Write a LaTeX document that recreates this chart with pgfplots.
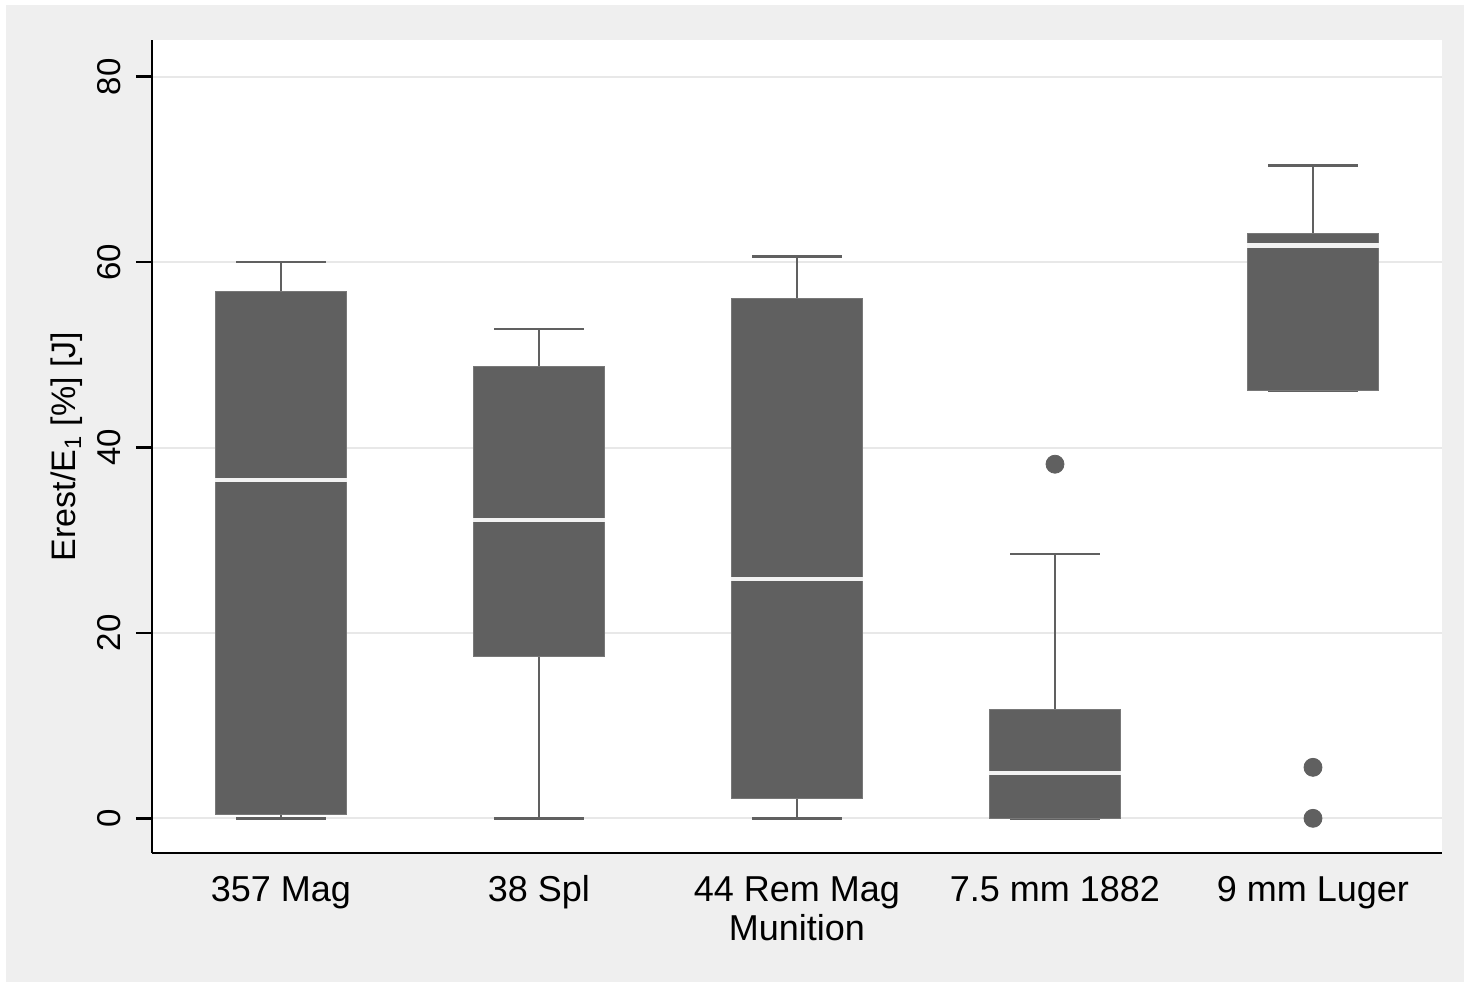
\documentclass[border=0pt]{standalone}
\usepackage{fontspec}
\setmainfont{Liberation Sans}
\usepackage{pgfplots}
\pgfplotsset{compat=1.18}
\usepgfplotslibrary{statistics}

\definecolor{boxgray}{HTML}{606060}
\definecolor{boxedge}{HTML}{787878}
\definecolor{bggray}{HTML}{EFEFEF}
\definecolor{gridgray}{HTML}{E8E8E8}
\definecolor{medwhite}{HTML}{F2F2F2}

\begin{document}
\begin{tikzpicture}
% page 1464x982 px at 0.5pt per px
\path[use as bounding box] (0,0) rectangle (732pt,491pt);
\fill[bggray] (3pt,0) rectangle (732pt,488.5pt);
\fill[white] (76pt,64.5pt) rectangle (721pt,471pt);
\begin{axis}[
  at={(76pt,64.5pt)}, anchor=south west,
  scale only axis, width=645pt, height=406.5pt,
  xmin=0.5, xmax=5.5, ymin=-3.74, ymax=83.96,
  axis x line*=bottom, axis y line*=left,
  axis line style={black, line width=1.2pt},
  xtick={1,2,3,4,5},
  xticklabels={357 Mag, 38 Spl, 44 Rem Mag, 7.5 mm 1882, 9 mm Luger},
  x tick style={draw=none},
  ytick={0,20,40,60,80},
  ymajorgrids, grid style={gridgray, line width=1pt},
  tick align=outside, major tick length=8pt,
  y tick style={black, line width=1.2pt},
  /pgf/number format/assume math mode=true,
  yticklabel style={xshift=-7.5pt, rotate=90, anchor=base, inner sep=0pt,
    font=\fontsize{16.5pt}{16.5pt}\selectfont},
  xticklabel style={anchor=base, inner sep=0pt, yshift=-16pt,
    font=\fontsize{18pt}{18pt}\selectfont},
  xlabel={Munition},
  every axis x label/.style={at={(axis description cs:0.5,-0.1082)},
    anchor=base, inner sep=0pt, font=\fontsize{18pt}{18pt}\selectfont},
  ylabel={Erest/E\textsubscript{1} [\%] [J]},
  every axis y label/.style={at={(axis description cs:-0.0590,0.5)},
    rotate=90, anchor=base, inner sep=0pt, font=\fontsize{17pt}{17pt}\selectfont},
  boxplot/draw direction=y,
  boxplot/box extend=0.51,
  boxplot/whisker extend=0.345,
  boxplot/every box/.style={fill=boxgray, draw=boxedge, line width=0.5pt},
  boxplot/every whisker/.style={draw=boxgray, line width=1.3pt},
  boxplot/every median/.style={draw=medwhite, line width=2.3pt},
]
  \addplot[boxplot prepared={median=36.5, upper quartile=56.8, lower quartile=0.36,
      upper whisker=60, lower whisker=0, draw position=1}] coordinates {};
  \addplot[boxplot prepared={median=32.2, upper quartile=48.7, lower quartile=17.5,
      upper whisker=52.8, lower whisker=0, draw position=2}] coordinates {};
  \addplot[boxplot prepared={median=25.8, upper quartile=56.1, lower quartile=2.16,
      upper whisker=60.6, lower whisker=0, draw position=3}] coordinates {};
  \addplot[boxplot prepared={median=4.9, upper quartile=11.7, lower quartile=0,
      upper whisker=28.5, lower whisker=0, draw position=4},
    mark=*, mark size=4.5pt, mark options={fill=boxgray, draw=boxgray}]
    coordinates {(4,38.2)};
  \addplot[boxplot prepared={median=61.8, upper quartile=63.1, lower quartile=46.1,
      upper whisker=70.4, lower whisker=46.1, draw position=5},
    mark=*, mark size=4.5pt, mark options={fill=boxgray, draw=boxgray}]
    coordinates {(5,5.5) (5,0)};
\end{axis}
\end{tikzpicture}
\end{document}
